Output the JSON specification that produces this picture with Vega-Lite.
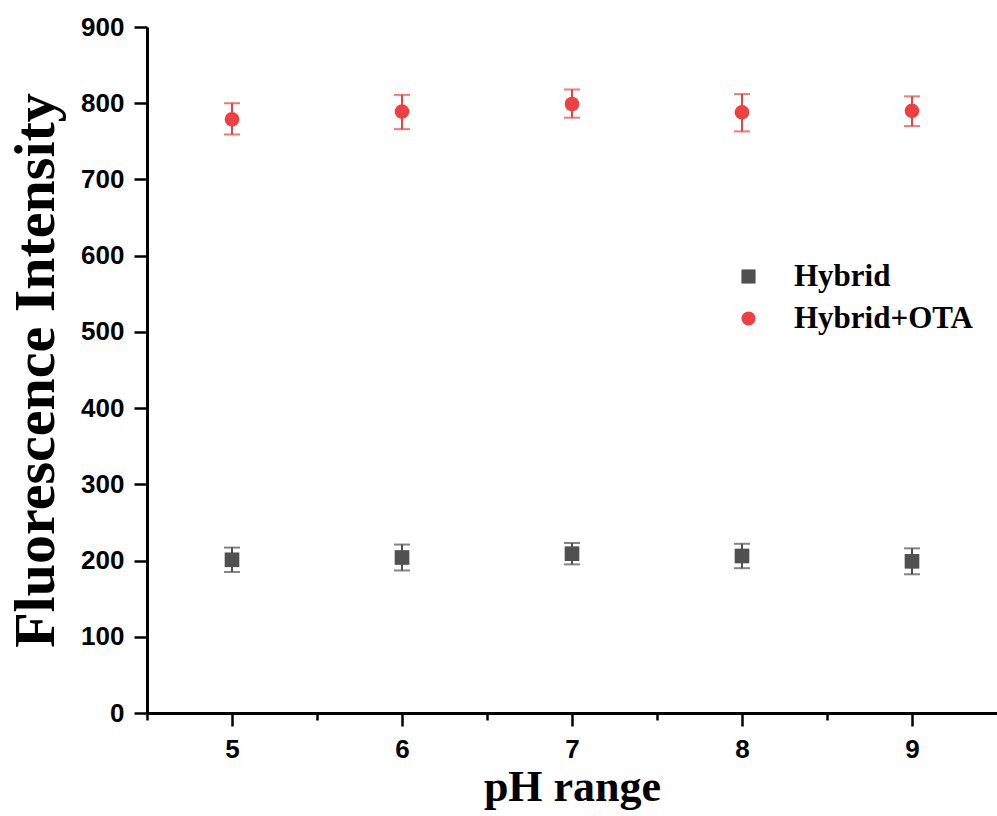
{
  "$schema": "https://vega.github.io/schema/vega-lite/v6.json",
  "autosize": "none",
  "width": 850,
  "height": 686,
  "padding": {"left": 147, "top": 27, "right": 0, "bottom": 103},
  "background": "white",
  "config": {
    "view": {"stroke": null},
    "axis": {
      "domainColor": "black",
      "domainWidth": 3,
      "tickColor": "black",
      "tickWidth": 2.5,
      "grid": false,
      "labelFont": "Liberation Sans",
      "labelFontWeight": "bold",
      "labelFontSize": 26,
      "labelColor": "black",
      "titleFont": "Liberation Serif",
      "titleFontWeight": "bold",
      "titleColor": "black"
    },
    "legend": {
      "labelFont": "Liberation Serif",
      "labelFontWeight": "bold",
      "labelFontSize": 31,
      "labelColor": "black",
      "labelOffset": 30,
      "labelLimit": 0,
      "symbolSize": 200,
      "rowPadding": 10
    }
  },
  "data": {
    "values": [
      {"pH": 5, "series": "Hybrid", "mean": 201, "lo": 185, "hi": 217},
      {"pH": 6, "series": "Hybrid", "mean": 204, "lo": 187, "hi": 221},
      {"pH": 7, "series": "Hybrid", "mean": 209, "lo": 195, "hi": 223},
      {"pH": 8, "series": "Hybrid", "mean": 206, "lo": 190, "hi": 222},
      {"pH": 9, "series": "Hybrid", "mean": 199, "lo": 182, "hi": 216},
      {"pH": 5, "series": "Hybrid+OTA", "mean": 779, "lo": 759, "hi": 800},
      {"pH": 6, "series": "Hybrid+OTA", "mean": 789, "lo": 766, "hi": 811},
      {"pH": 7, "series": "Hybrid+OTA", "mean": 799, "lo": 781, "hi": 818},
      {"pH": 8, "series": "Hybrid+OTA", "mean": 788, "lo": 763, "hi": 812},
      {"pH": 9, "series": "Hybrid+OTA", "mean": 790, "lo": 770, "hi": 809}
    ]
  },
  "encoding": {
    "x": {
      "field": "pH", "type": "quantitative",
      "scale": {"domain": [4.5, 9.5], "nice": false, "zero": false},
      "axis": {
        "title": "pH range",
        "titleFontSize": 44,
        "titlePadding": 3,
        "values": [4.5, 5, 5.5, 6, 6.5, 7, 7.5, 8, 8.5, 9],
        "labelExpr": "datum.value % 1 === 0 ? format(datum.value, 'd') : ''",
        "tickSize": {"condition": {"test": "datum.value % 1 !== 0", "value": 7}, "value": 13},
        "labelPadding": 10
      }
    }
  },
  "layer": [
    {
      "mark": {"type": "rule", "strokeWidth": 2},
      "encoding": {
        "y": {
          "field": "lo", "type": "quantitative",
          "scale": {"domain": [0, 900], "nice": false},
          "axis": {
            "title": "Fluorescence Intensity",
            "titleFontSize": 58,
            "titleX": -94,
            "titleBaseline": "alphabetic",
            "values": [0, 50, 100, 150, 200, 250, 300, 350, 400, 450, 500, 550, 600, 650, 700, 750, 800, 850, 900],
            "labelExpr": "datum.value % 100 === 0 ? datum.label : ''",
            "tickSize": {"condition": {"test": "datum.value % 100 !== 0", "value": 7}, "value": 13},
            "labelPadding": 10
          }
        },
        "y2": {"field": "hi"},
        "stroke": {
          "field": "series", "type": "nominal",
          "scale": {"range": ["#505050", "#EE4040"]},
          "legend": null
        }
      }
    },
    {
      "mark": {"type": "tick", "orient": "horizontal", "size": 16, "thickness": 2},
      "encoding": {
        "y": {"field": "lo", "type": "quantitative"},
        "fill": {
          "field": "series", "type": "nominal",
          "scale": {"range": ["#505050", "#EE4040"]},
          "legend": null
        }
      }
    },
    {
      "mark": {"type": "tick", "orient": "horizontal", "size": 16, "thickness": 2},
      "encoding": {
        "y": {"field": "hi", "type": "quantitative"},
        "fill": {"field": "series", "type": "nominal", "legend": null}
      }
    },
    {
      "mark": {"type": "point", "filled": true, "opacity": 1, "size": 215},
      "encoding": {
        "y": {"field": "mean", "type": "quantitative"},
        "shape": {
          "field": "series", "type": "nominal",
          "scale": {"domain": ["Hybrid", "Hybrid+OTA"], "range": ["square", "circle"]},
          "legend": {"title": null, "orient": "none", "legendX": 586, "legendY": 234}
        },
        "color": {
          "field": "series", "type": "nominal",
          "scale": {"domain": ["Hybrid", "Hybrid+OTA"], "range": ["#505050", "#EE4040"]},
          "legend": {"title": null, "orient": "none", "legendX": 586, "legendY": 234}
        }
      }
    }
  ]
}
